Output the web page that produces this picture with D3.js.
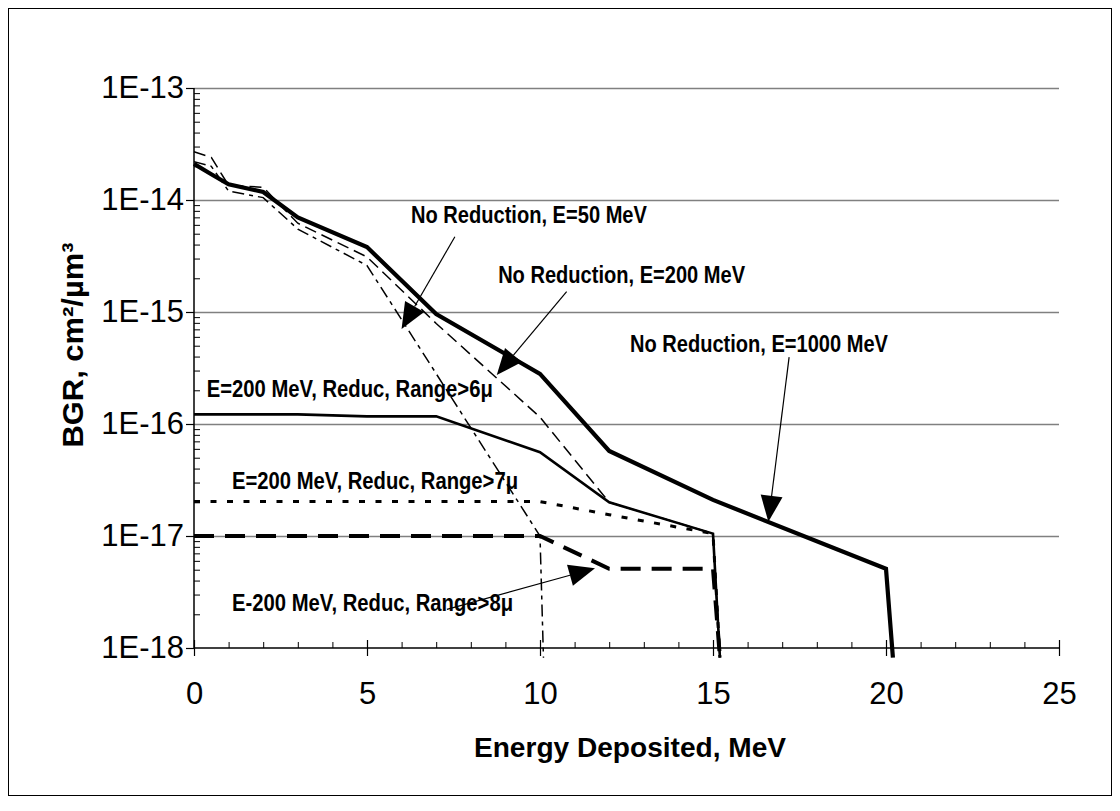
<!DOCTYPE html>
<html><head><meta charset="utf-8">
<script src="https://cdn.jsdelivr.net/npm/d3@7"></script>
<style>body{margin:0;background:#fff}</style>
</head><body>
<svg id="c" width="1120" height="811"></svg>
<script>
// ---- data ----
const xTickValues = [0, 5, 10, 15, 20, 25];
const xTickLabels = ["0", "5", "10", "15", "20", "25"];
const yTickValues = [1e-13, 1e-14, 1e-15, 1e-16, 1e-17, 1e-18];
const yTickLabels = ["1E-13", "1E-14", "1E-15", "1E-16", "1E-17", "1E-18"];

// No Reduction, E=1000 MeV
const e1000 = [0, 0.5, 1, 2, 3, 5, 7, 10, 12, 15, 20, 20.2];
const v1000 = [2.1e-14, 1.7e-14, 1.38e-14, 1.18e-14, 7e-15, 3.8e-15, 9.6e-16, 2.8e-16, 5.75e-17, 2.1e-17, 5.1e-18, 8.2e-19];
// No Reduction, E=200 MeV
const e200 = [0, 0.5, 1, 2, 3, 5, 7, 10, 12, 15, 15.2];
const v200 = [2.7e-14, 2.4e-14, 1.35e-14, 1.3e-14, 6.2e-15, 3.1e-15, 7.9e-16, 1.15e-16, 2e-17, 1.05e-17, 8.2e-19];
// No Reduction, E=50 MeV
const e50 = [0, 0.5, 1, 2, 3, 5, 10, 10.1];
const v50 = [2.2e-14, 2e-14, 1.2e-14, 1.05e-14, 5.5e-15, 2.6e-15, 1e-17, 8.2e-19];
// E=200 MeV, Reduc, Range>6µ
const e6 = [0, 3, 5, 7, 10, 12, 15, 15.2];
const v6 = [1.22e-16, 1.22e-16, 1.17e-16, 1.17e-16, 5.6e-17, 2e-17, 1.05e-17, 8.2e-19];
// E=200 MeV, Reduc, Range>7µ
const e7 = [0, 10, 12, 15, 15.2];
const v7 = [2.03e-17, 2.03e-17, 1.55e-17, 1.05e-17, 8.2e-19];
// E=200 MeV, Reduc, Range>8µ
const e8 = [0, 10, 12, 15, 15.2];
const v8 = [1e-17, 1e-17, 5.1e-18, 5.1e-18, 8.2e-19];

const annLabels = ["No Reduction, E=50 MeV", "No Reduction, E=200 MeV", "No Reduction, E=1000 MeV",
  "E=200 MeV, Reduc, Range>6\u03bc", "E=200 MeV, Reduc, Range>7\u03bc", "E-200 MeV, Reduc, Range>8\u03bc"];
const annX = [6.27, 8.79, 12.6, 0.37, 1.1, 1.1];
const annY = [6.23e-15, 1.815e-15, 4.39e-16, 1.74e-16, 2.63e-17, 2.14e-18];
const annW = [236, 247, 258, 286, 286, 281];

// arrows: from (E,BGR) to tip (E,BGR)
const arrFromE = [7.54, 10.77, 17.2, 7.31];
const arrFromV = [4.7e-15, 1.52e-15, 3.96e-16, 2.21e-18];
const arrToE = [6.0, 8.75, 16.6, 11.59];
const arrToV = [7.05e-16, 2.74e-16, 1.34e-17, 5.15e-18];

// ---- drawing ----
const svg = d3.select("#c");
svg.append("rect").attr("x", 8.5).attr("y", 8.5).attr("width", 1103).attr("height", 787)
  .attr("fill", "#fff").attr("stroke", "#000").attr("stroke-width", 1);

const x = d3.scaleLinear().domain([0, 25]).range([194, 1059]);
const y = d3.scaleLog().domain([1e-18, 1e-13]).range([648, 88]);
const font = "'Liberation Sans', Arial, sans-serif";

// gridlines
svg.append("g").attr("transform", "translate(194,0)")
  .call(d3.axisLeft(y).tickValues(yTickValues.slice(0, 5)).tickSize(-(1059 - 194)).tickFormat(""))
  .call(g => g.select(".domain").remove())
  .call(g => g.selectAll("line").attr("stroke", "#808080").attr("stroke-width", 1.5));

// minor y ticks (inside)
const minorY = [];
for (let p = -18; p < -13; p++) for (let m = 2; m <= 9; m++) minorY.push(m * Math.pow(10, p));
svg.append("g").attr("transform", "translate(194,0)")
  .call(d3.axisRight(y).tickValues(minorY).tickSize(6).tickFormat(""))
  .call(g => g.select(".domain").remove())
  .call(g => g.selectAll("line").attr("stroke", "#000").attr("stroke-width", 1));

// y axis
svg.append("g").attr("transform", "translate(194,0)")
  .call(d3.axisLeft(y).tickValues(yTickValues).tickSize(8).tickPadding(2)
    .tickFormat((d, i) => yTickLabels[i]))
  .call(g => g.select(".domain").attr("stroke", "#000").attr("stroke-width", 1.5).attr("d", "M0,88V648"))
  .call(g => g.selectAll("line").attr("stroke", "#000").attr("stroke-width", 1.2))
  .call(g => g.selectAll("text").attr("font-family", font).attr("font-size", 31).attr("fill", "#000"));

// minor x ticks
const minorX = d3.range(0, 26).filter(v => v % 5 !== 0);
svg.append("g").attr("transform", "translate(0,648)")
  .call(d3.axisTop(x).tickValues(minorX).tickSize(6).tickFormat(""))
  .call(g => g.select(".domain").remove())
  .call(g => g.selectAll("line").attr("stroke", "#000").attr("stroke-width", 1));

// x axis
svg.append("g").attr("transform", "translate(0,648)")
  .call(d3.axisBottom(x).tickValues(xTickValues).tickSize(8).tickPadding(26)
    .tickFormat((d, i) => xTickLabels[i]))
  .call(g => g.select(".domain").attr("stroke", "#000").attr("stroke-width", 1.5).attr("d", "M194,0H1059"))
  .call(g => g.selectAll("line").attr("stroke", "#000").attr("stroke-width", 1.2).attr("y1", -8))
  .call(g => g.selectAll("text").attr("font-family", font).attr("font-size", 31).attr("fill", "#000"));

// series
const line = d3.line().x(d => x(d[0])).y(d => y(d[1]));
const zip = (a, b) => a.map((v, i) => [v, b[i]]);
const series = [
  {d: zip(e50, v50), w: 1.5, dash: "12,5,4,5"},
  {d: zip(e200, v200), w: 1.5, dash: "12,6"},
  {d: zip(e7, v7), w: 3, dash: "6,10.5"},
  {d: zip(e8, v8), w: 4, dash: "20,11"},
  {d: zip(e6, v6), w: 2.6, dash: null},
  {d: zip(e1000, v1000), w: 4.2, dash: null}
];
series.forEach(s => {
  svg.append("path").attr("d", line(s.d)).attr("fill", "none").attr("stroke", "#000")
    .attr("stroke-width", s.w).attr("stroke-dasharray", s.dash).attr("stroke-linejoin", "miter");
});

// annotations
annLabels.forEach((t, i) => {
  svg.append("text").attr("x", x(annX[i])).attr("y", y(annY[i])).text(t)
    .attr("font-family", font).attr("font-weight", "bold")
    .attr("font-size", 23).attr("textLength", annW[i]).attr("lengthAdjust", "spacingAndGlyphs");
});

arrFromE.forEach((e, i) => {
  const x0 = x(e), y0 = y(arrFromV[i]), x1 = x(arrToE[i]), y1 = y(arrToV[i]);
  const dx = x1 - x0, dy = y1 - y0, L = Math.hypot(dx, dy), ux = dx / L, uy = dy / L;
  const hl = 26, hw = 11;
  const bx = x1 - ux * hl, by = y1 - uy * hl;
  svg.append("line").attr("x1", x0).attr("y1", y0).attr("x2", bx).attr("y2", by)
    .attr("stroke", "#000").attr("stroke-width", 1.2);
  svg.append("polygon").attr("points",
    [[x1, y1], [bx - uy * hw, by + ux * hw], [bx + uy * hw, by - ux * hw]].map(p => p.join(",")).join(" "))
    .attr("fill", "#000");
});

// axis titles
svg.append("text").attr("x", 630).attr("y", 757).attr("text-anchor", "middle")
  .attr("font-family", font).attr("font-weight", "bold")
  .attr("font-size", 28).attr("textLength", 312).attr("lengthAdjust", "spacingAndGlyphs")
  .text("Energy Deposited, MeV");
svg.append("text").attr("transform", "translate(83,345) rotate(-90)").attr("text-anchor", "middle")
  .attr("font-family", font).attr("font-weight", "bold")
  .attr("font-size", 29).attr("textLength", 205).attr("lengthAdjust", "spacingAndGlyphs")
  .text("BGR, cm\u00b2/\u00b5m\u00b3");
</script>
</body></html>
